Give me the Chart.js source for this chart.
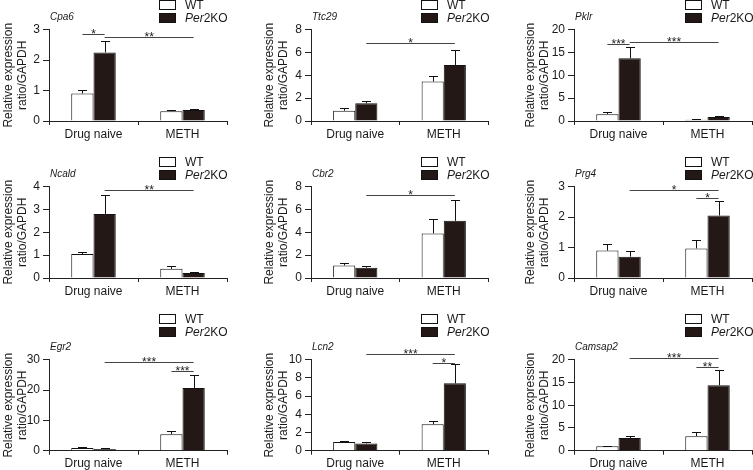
<!DOCTYPE html>
<html><head><meta charset="utf-8">
<script src="https://cdn.jsdelivr.net/npm/chart.js@4.4.1/dist/chart.umd.min.js"></script>
<style>
html,body{margin:0;padding:0;background:#fff;}
body{width:753px;height:470px;position:relative;overflow:hidden;font-family:"Liberation Sans",Arial,sans-serif;color:#1a1a1a;}
.panel{position:absolute;}
.panel canvas{position:absolute;left:0;top:0;}
.gene{position:absolute;font-style:italic;font-size:10px;line-height:12px;white-space:nowrap;}
.box{position:absolute;width:15px;height:8px;border:1px solid #111;box-sizing:content-box;}
.lt{position:absolute;font-size:12px;line-height:13px;white-space:nowrap;}
</style>
</head><body>
<script>
// ---- data ----
const categories = ['Drug naive', 'METH'];
const seriesNames = ['WT', 'Per2KO'];
const genes = ['Cpa6', 'Ttc29', 'Pklr', 'Ncald', 'Cbr2', 'Prg4', 'Egr2', 'Lcn2', 'Camsap2'];
const wtMean = [[0.9, 0.32], [0.9, 3.45], [1.5, 0.25], [1.05, 0.4], [1.1, 3.9], [0.9, 0.97], [0.85, 5.4], [0.95, 2.9], [1.0, 3.2]];
const wtErr  = [[0.13, 0.05], [0.2, 0.45], [0.5, 0.1], [0.07, 0.12], [0.22, 1.25], [0.2, 0.27], [0.25, 1.2], [0.12, 0.4], [0.1, 0.85]];
const koMean = [[2.25, 0.36], [1.55, 4.9], [13.7, 0.85], [2.8, 0.22], [0.9, 5.0], [0.7, 2.05], [0.6, 20.7], [0.8, 7.4], [2.8, 14.4]];
const koErr  = [[0.37, 0.03], [0.2, 1.35], [2.4, 0.35], [0.82, 0.06], [0.15, 1.85], [0.17, 0.47], [0.15, 4.1], [0.15, 2.1], [0.35, 3.4]];
const yMax   = [3, 8, 20, 4, 8, 3, 30, 10, 20];
const yStep  = [1, 2, 5, 1, 2, 1, 10, 2, 5];
// significance brackets: [category1, series1, category2, series2, y value, label]
const sigMarks = [
  [[0, 0, 0, 1, 2.85, '*'], [0, 1, 1, 1, 2.74, '**']],
  [[0, 1, 1, 1, 6.86, '*']],
  [[0, 0, 0, 1, 16.8, '***'], [0, 1, 1, 1, 17.3, '***']],
  [[0, 1, 1, 1, 3.84, '**']],
  [[0, 1, 1, 1, 7.29, '*']],
  [[0, 1, 1, 1, 2.9, '*'], [1, 0, 1, 1, 2.62, '*']],
  [[0, 1, 1, 1, 29.1, '***'], [1, 0, 1, 1, 26.4, '***']],
  [[0, 1, 1, 1, 10.6, '***'], [1, 0, 1, 1, 9.68, '*']],
  [[0, 1, 1, 1, 20.4, '***'], [1, 0, 1, 1, 18.4, '**']]
];

// ---- layout ----
const colLeft = [0, 251, 502];
const rowTop = [0, 157, 314];
const rowH = [157, 157, 156];
const areaL = [49, 60, 72];
const areaR = [227, 237, 250];
const areaT = [29.5, 29.5, 45.7];
const areaB = [121, 121, 136.7];
const titlePad = [1, 11, 21];
const geneTop = [11, 11, 27];
const legendX = [159, 170, 183];

const FONT = '"Liberation Sans", Arial, sans-serif';

const errPlugin = {
  id: 'errs',
  afterDraw(chart) {
    const idx = chart.options.plugins.errs.idx;
    const ctx = chart.ctx;
    const ys = chart.scales.y;
    const errs = [wtErr[idx], koErr[idx]];
    const means = [wtMean[idx], koMean[idx]];
    ctx.save();
    ctx.strokeStyle = '#111';
    ctx.lineWidth = 1;
    for (let d = 0; d < 2; d++) {
      const meta = chart.getDatasetMeta(d);
      meta.data.forEach((el, c) => {
        const x = Math.round(el.x) + 0.5;
        const y0 = ys.getPixelForValue(means[d][c]);
        const y1 = Math.round(ys.getPixelForValue(means[d][c] + errs[d][c])) + 0.5;
        ctx.beginPath();
        ctx.moveTo(x, y0);
        ctx.lineTo(x, y1);
        ctx.moveTo(x - 4.5, y1);
        ctx.lineTo(x + 4.5, y1);
        ctx.stroke();
      });
    }
    // significance
    ctx.font = '12px ' + FONT;
    ctx.fillStyle = '#222';
    ctx.textAlign = 'center';
    ctx.textBaseline = 'alphabetic';
    sigMarks[idx].forEach(s => {
      const x1 = chart.getDatasetMeta(s[1]).data[s[0]].x;
      const x2 = chart.getDatasetMeta(s[3]).data[s[2]].x;
      const y = Math.round(ys.getPixelForValue(s[4])) + 0.5;
      ctx.strokeStyle = '#444';
      ctx.beginPath();
      ctx.moveTo(x1, y);
      ctx.lineTo(x2, y);
      ctx.stroke();
      ctx.fillText(s[5], (x1 + x2) / 2, y + 3);
    });
    ctx.restore();
  }
};

genes.forEach((g, i) => {
  const col = i % 3, row = Math.floor(i / 3);
  const W = 251, H = rowH[row];
  const div = document.createElement('div');
  div.className = 'panel';
  div.style.left = colLeft[col] + 'px';
  div.style.top = rowTop[row] + 'px';
  div.style.width = W + 'px';
  div.style.height = H + 'px';
  const cv = document.createElement('canvas');
  cv.width = W; cv.height = H;
  cv.style.width = W + 'px'; cv.style.height = H + 'px';
  div.appendChild(cv);
  // gene title
  const t = document.createElement('div');
  t.className = 'gene';
  t.textContent = g;
  t.style.left = (areaL[col] + 1) + 'px';
  t.style.top = geneTop[row] + 'px';
  div.appendChild(t);
  // legend
  seriesNames.forEach((s, k) => {
    const b = document.createElement('div');
    b.className = 'box';
    b.style.left = legendX[col] + 'px';
    b.style.top = (k === 0 ? 0 : 13) + 'px';
    b.style.background = k === 0 ? '#fff' : '#231816';
    div.appendChild(b);
    const l = document.createElement('div');
    l.className = 'lt';
    l.style.left = (legendX[col] + 26) + 'px';
    l.style.top = (k === 0 ? -1 : 12) + 'px';
    if (k === 0) l.textContent = s;
    else l.innerHTML = '<i>Per</i>2KO';
    div.appendChild(l);
  });
  document.body.appendChild(div);

  new Chart(cv, {
    type: 'bar',
    data: {
      labels: categories,
      datasets: [
        { label: seriesNames[0], data: wtMean[i], backgroundColor: '#ffffff', borderColor: '#111', borderWidth: 1 },
        { label: seriesNames[1], data: koMean[i], backgroundColor: '#231816', borderColor: '#111', borderWidth: 1 }
      ]
    },
    options: {
      responsive: false,
      animation: false,
      devicePixelRatio: 1,
      layout: { autoPadding: false, padding: { top: areaT[row], right: W - areaR[col], left: 0, bottom: 0 } },
      datasets: { bar: { barPercentage: 1, categoryPercentage: 0.5 } },
      plugins: { legend: { display: false }, tooltip: { enabled: false }, errs: { idx: i } },
      scales: {
        x: {
          grid: { display: true, drawOnChartArea: false, drawTicks: true, tickLength: 4, color: '#222', offset: true },
          border: { display: true, color: '#222', width: 1 },
          ticks: { color: '#1a1a1a', font: { family: FONT, size: 12 }, padding: 2, maxRotation: 0 },
          afterFit(s) { s.height = H - areaB[row]; }
        },
        y: {
          min: 0, max: yMax[i],
          grid: { display: true, drawOnChartArea: false, drawTicks: true, tickLength: 6, color: '#222' },
          border: { display: true, color: '#222', width: 1 },
          ticks: { stepSize: yStep[i], color: '#1a1a1a', font: { family: FONT, size: 12 }, padding: 3 },
          title: { display: true, text: ['Relative expression', 'ratio/GAPDH'], color: '#1a1a1a', font: { family: FONT, size: 12, lineHeight: 1.2 }, padding: { top: titlePad[col], bottom: 0 } },
          afterFit(s) { s.width = areaL[col]; }
        }
      }
    },
    plugins: [errPlugin]
  });
});
</script>
</body></html>
